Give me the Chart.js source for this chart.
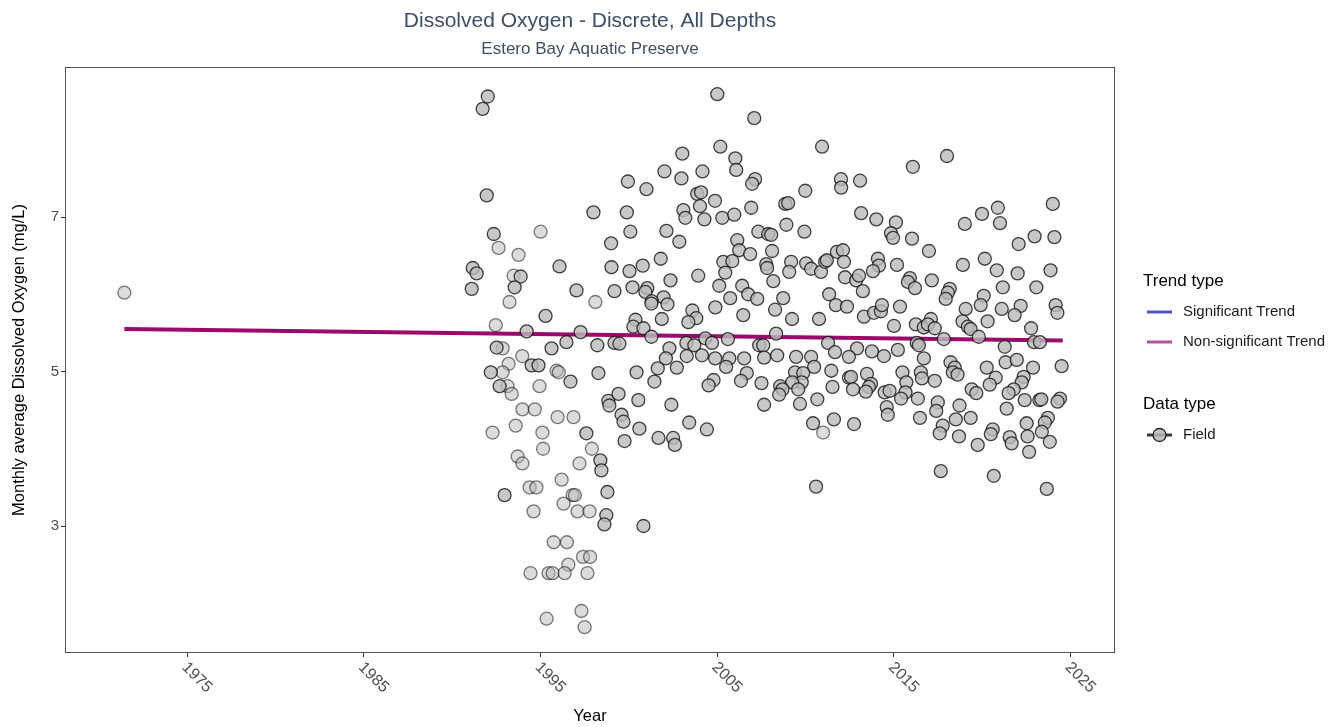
<!DOCTYPE html>
<html>
<head>
<meta charset="utf-8">
<title>Dissolved Oxygen - Discrete, All Depths</title>
<script src="https://cdn.jsdelivr.net/npm/chart.js@4.4.0/dist/chart.umd.min.js"></script>
<style>
    html, body { margin: 0; padding: 0; background: #ffffff; }
    #wrap { width: 1331px; height: 727px; }
</style>
</head>
<body>
<div id="wrap"><canvas id="chart" width="1331" height="727"></canvas></div>
<script>
// Chart texts
const chartTitle = 'Dissolved Oxygen - Discrete, All Depths';
const chartSubtitle = 'Estero Bay Aquatic Preserve';
const xTitle = 'Year';
const yTitle = 'Monthly average Dissolved Oxygen (mg/L)';

// Axis ticks
const xTickValues = [1975, 1985, 1995, 2005, 2015, 2025];
const yTickValues = [3, 5, 7];

// Trend line (non-significant)
const trendYears = [1971.44, 2024.55];
const trendValues = [5.55, 5.40];

// Field points, darker ones
const fieldYears = [
    1992.01, 1991.72, 1991.95, 1997.99, 1992.35, 1998.99, 1991.16, 1991.38, 1993.87, 1993.53,
    1996.07, 1999.01, 1991.10, 1997.03, 1999.18, 1995.28, 1994.21, 1997.26, 1992.51, 1995.62,
    1996.46, 1998.21, 1999.18, 1992.18, 1994.49, 1994.88, 1998.27, 1996.69, 1992.68, 1998.83,
    1998.89, 1997.59, 1998.38, 1998.44, 1998.78, 1998.72, 1998.61, 1992.96,
    2005.00, 2007.09, 2005.17, 2003.02, 2006.02, 2006.07, 2002.01, 2004.16, 2002.97, 1999.94,
    2000.99, 2007.14, 2006.97, 2003.86, 2004.08, 2004.87, 2004.02, 1999.88, 2003.08, 2003.19,
    2004.27, 2005.28, 2005.96, 2006.92, 2000.08, 2002.12, 2002.85, 2007.32, 2007.88, 2006.13,
    2006.24, 2006.86, 2005.34, 2005.85, 2005.45, 2001.80, 2000.78, 2000.03, 2003.92, 2002.35,
    2007.77, 2007.82, 2000.20, 2001.04, 2000.93, 2001.96, 2002.18, 2001.29, 2001.27, 2005.11,
    2006.41, 2006.75, 2007.26, 2005.73, 2004.89, 2003.59, 2003.81, 2003.36, 2001.86, 2006.47,
    2000.37, 2000.25, 2000.82, 2001.27, 1999.46, 2002.29, 2003.25, 2003.70, 2004.32, 2004.70,
    2005.60, 2007.37, 2007.60, 2002.09, 2003.27, 2004.13, 2004.88, 2005.68, 2006.52, 2007.65,
    2001.63, 2001.44, 2002.71, 2005.50, 2006.67, 2006.34, 2004.79, 2004.51, 2007.50, 2007.65,
    2000.43, 1999.41, 2000.53, 2002.40, 1999.58, 1999.69, 2000.59, 2003.41, 2004.41, 1999.75,
    2001.67, 2002.50, 2002.60, 2000.82,
    2010.93, 2016.07, 2012.00, 2012.01, 2013.08, 2009.98, 2008.85, 2009.01, 2013.14, 2014.00,
    2015.11, 2014.83, 2014.95, 2016.02, 2008.91, 2009.93, 2008.05, 2008.10, 2009.18, 2009.07,
    2008.17, 2010.03, 2010.31, 2010.87, 2011.10, 2011.20, 2011.77, 2012.11, 2012.17, 2012.23,
    2012.86, 2013.02, 2013.24, 2014.09, 2014.15, 2013.81, 2015.17, 2015.90, 2015.79, 2016.19,
    2011.33, 2008.73, 2008.27, 2009.23, 2010.76, 2011.71, 2012.34, 2013.30, 2013.87, 2014.26,
    2014.32, 2015.34, 2015.00, 2016.24, 2016.69, 2008.33, 2011.27, 2011.66, 2012.91, 2013.75,
    2014.43, 2015.22, 2016.29, 2008.39, 2009.46, 2010.31, 2012.45,
    2010.48, 2009.40, 2009.86, 2009.78, 2009.24, 2009.58, 2008.56, 2008.69, 2008.50, 2009.68,
    2010.66, 2011.45, 2011.52, 2012.45, 2012.57, 2012.68, 2013.47, 2013.70, 2013.58, 2013.41,
    2014.47, 2014.75, 2015.48, 2015.70, 2015.65, 2015.40, 2014.59, 2014.65, 2016.52, 2016.58,
    2016.35, 2016.47, 2010.42, 2011.60, 2012.74, 2010.59,
    2018.00, 2023.99, 2020.88, 2021.00, 2019.98, 2019.01, 2022.96, 2024.08, 2022.06, 2016.98,
    2018.90, 2020.14, 2020.82, 2022.00, 2023.86, 2017.14, 2021.16, 2023.06, 2018.16, 2018.05,
    2017.93, 2020.08, 2019.91, 2019.06, 2021.10, 2022.17, 2021.83, 2024.15, 2024.25, 2020.30,
    2018.88, 2019.18, 2019.34, 2017.09, 2016.92, 2017.31, 2022.76, 2017.82, 2019.80, 2022.93,
    2023.26, 2021.27, 2016.41, 2016.69, 2018.20, 2021.32, 2021.95,
    2017.31, 2018.44, 2018.33, 2018.60, 2020.25, 2022.87, 2024.49, 2020.76, 2020.42, 2022.34,
    2022.23, 2021.78, 2021.49, 2019.40, 2019.66, 2017.48, 2017.39, 2018.71, 2022.40, 2023.23,
    2023.34, 2024.40, 2024.26, 2021.38, 2018.50, 2019.34, 2017.76, 2017.59, 2018.68, 2019.74,
    2020.59, 2020.48, 2021.55, 2021.66, 2022.51, 2022.56, 2023.71, 2023.54, 2023.37, 2023.82,
    2022.65, 2017.65, 2020.65, 2023.65
];
const fieldValues = [
    8.56, 8.40, 7.28, 7.06, 6.78, 6.66, 6.34, 6.27, 6.23, 6.09,
    6.36, 6.35, 6.07, 6.05, 6.04, 5.72, 5.52, 5.51, 5.31, 5.30,
    5.38, 5.34, 5.37, 4.99, 5.08, 5.08, 4.98, 4.87, 4.81, 4.62,
    4.56, 4.20, 3.85, 3.72, 3.44, 3.14, 3.02, 3.40,
    8.59, 8.28, 7.91, 7.82, 7.76, 7.61, 7.59, 7.59, 7.50, 7.46,
    7.36, 7.49, 7.43, 7.30, 7.32, 7.21, 7.14, 7.06, 7.09, 6.99,
    6.97, 6.99, 7.03, 7.12, 6.81, 6.82, 6.68, 6.81, 6.78, 6.70,
    6.57, 6.52, 6.42, 6.43, 6.28, 6.46, 6.37, 6.30, 6.24, 6.18,
    6.39, 6.34, 6.09, 6.08, 6.03, 5.96, 5.87, 5.91, 5.88, 6.11,
    6.11, 6.00, 5.94, 5.95, 5.83, 5.79, 5.69, 5.64, 5.68, 5.73,
    5.67, 5.58, 5.56, 5.45, 5.36, 5.30, 5.37, 5.34, 5.43, 5.37,
    5.42, 5.34, 5.34, 5.17, 5.20, 5.21, 5.17, 5.17, 5.17, 5.18,
    5.04, 4.87, 5.05, 5.06, 4.98, 4.88, 4.89, 4.82, 4.85, 4.57,
    4.99, 4.71, 4.63, 4.57, 4.44, 4.35, 4.26, 4.34, 4.25, 4.10,
    4.14, 4.14, 4.05, 3.00,
    7.91, 7.65, 7.49, 7.38, 7.47, 7.34, 7.17, 7.18, 7.05, 6.97,
    6.93, 6.79, 6.73, 6.72, 6.90, 6.81, 6.77, 6.56, 6.42, 6.29,
    6.17, 6.40, 6.33, 6.29, 6.42, 6.44, 6.55, 6.57, 6.42, 6.22,
    6.18, 6.24, 6.04, 6.46, 6.37, 6.30, 6.38, 6.21, 6.16, 6.08,
    6.00, 5.95, 5.80, 5.68, 5.68, 5.86, 5.84, 5.71, 5.76, 5.78,
    5.86, 5.84, 5.59, 5.61, 5.57, 5.49, 5.37, 5.25, 5.30, 5.26,
    5.20, 5.28, 5.37, 5.21, 5.19, 5.19, 5.19,
    5.06, 4.99, 4.98, 4.86, 4.86, 4.77, 4.81, 4.77, 4.70, 4.58,
    4.64, 5.01, 4.80, 4.92, 4.93, 4.77, 4.97, 4.84, 4.80, 4.74,
    4.73, 4.75, 4.99, 4.86, 4.73, 4.65, 4.54, 4.44, 4.99, 4.91,
    4.65, 4.40, 4.33, 4.38, 4.32, 3.51,
    7.79, 7.17, 7.12, 6.92, 7.04, 6.91, 6.75, 6.74, 6.65, 6.56,
    6.38, 6.46, 6.31, 6.27, 6.31, 6.18, 6.09, 6.09, 6.07, 6.02,
    5.94, 5.98, 5.86, 5.81, 5.81, 5.85, 5.73, 5.86, 5.76, 5.65,
    5.65, 5.58, 5.55, 5.68, 5.61, 5.56, 5.56, 5.42, 5.45, 5.38,
    5.38, 5.32, 5.34, 5.17, 5.12, 5.12, 5.15,
    4.88, 5.05, 4.99, 4.96, 5.05, 5.05, 5.07, 4.92, 4.83, 4.93,
    4.86, 4.77, 4.72, 4.77, 4.72, 4.60, 4.49, 4.56, 4.63, 4.63,
    4.64, 4.65, 4.61, 4.52, 4.38, 4.40, 4.30, 4.20, 4.16, 4.05,
    4.25, 4.19, 4.15, 4.07, 4.33, 4.16, 4.40, 4.34, 4.22, 4.09,
    3.96, 3.71, 3.65, 3.48
];

// Field points, fainter ones
const faintYears = [
    1971.44, 1995.00, 1992.62, 1993.75, 1993.47, 1998.10, 1993.24, 1992.46, 1993.96, 1992.85,
    1993.19, 1992.85, 1995.90, 1996.03, 1993.13, 1993.36, 1994.94, 1993.97, 1994.67, 1995.96,
    1996.86, 1993.59, 1992.28, 1995.10, 1995.14, 1997.90, 1993.70, 1993.97, 1997.20, 1996.19,
    1994.38, 1994.76, 1996.81, 1996.94, 1996.30, 1994.60, 1997.09, 1997.77, 1995.74, 1996.49,
    1997.40, 1997.80, 1996.57, 1994.43, 1995.45, 1995.68, 1996.36, 1997.65, 1995.34, 1997.31,
    1997.49, 2010.99
];
const faintValues = [
    6.02, 6.81, 6.60, 6.51, 6.24, 5.90, 5.90, 5.60, 5.20, 5.30,
    5.10, 4.99, 5.01, 4.99, 4.81, 4.71, 4.81, 4.51, 4.51, 4.41,
    4.41, 4.30, 4.21, 4.21, 4.00, 4.00, 3.90, 3.81, 3.81, 3.60,
    3.50, 3.50, 3.40, 3.40, 3.29, 3.19, 3.19, 3.19, 2.79, 2.79,
    2.60, 2.60, 2.50, 2.39, 2.39, 2.39, 2.39, 2.39, 1.80, 1.90,
    1.69, 4.21
];

const FONT = '"Liberation Sans", Arial, Helvetica, sans-serif';
const TEXT_GREY = '#4d4d4d';

function toPoints(xs, ys) {
    return xs.map((x, i) => ({ x: x, y: ys[i] }));
}

// Title and subtitle, centred over the plot panel
const titlePlugin = {
    id: 'titles',
    afterDraw(chart) {
        const { ctx, chartArea } = chart;
        const cx = (chartArea.left + chartArea.right) / 2;
        ctx.save();
        ctx.fillStyle = '#3b5068';
        ctx.textAlign = 'center';
        ctx.textBaseline = 'middle';
        ctx.font = '21px ' + FONT;
        ctx.fillText(chartTitle, cx, 21);
        ctx.font = '17px ' + FONT;
        ctx.fillText(chartSubtitle, cx, 49);
        ctx.restore();
    }
};

// Panel border
const borderPlugin = {
    id: 'panelBorder',
    afterDatasetsDraw(chart) {
        const { ctx, chartArea } = chart;
        ctx.save();
        ctx.strokeStyle = '#555555';
        ctx.lineWidth = 1;
        ctx.strokeRect(chartArea.left + 0.5, chartArea.top + 0.5,
            chartArea.right - chartArea.left - 1, chartArea.bottom - chartArea.top - 1);
        ctx.restore();
    }
};

// Rotated year labels (clockwise, reading down to the right)
const xLabelPlugin = {
    id: 'xLabels',
    afterDraw(chart) {
        const { ctx } = chart;
        const scale = chart.scales.x;
        ctx.save();
        ctx.font = '16px ' + FONT;
        ctx.fillStyle = TEXT_GREY;
        ctx.textAlign = 'left';
        ctx.textBaseline = 'middle';
        scale.ticks.forEach(t => {
            const x = scale.getPixelForValue(t.value);
            ctx.save();
            ctx.translate(x - 3, scale.top + 12);
            ctx.rotate(Math.PI / 4);
            ctx.fillText(String(t.value), 0, 0);
            ctx.restore();
        });
        ctx.restore();
    }
};

// Legend on the right
const legendPlugin = {
    id: 'sideLegend',
    afterDraw(chart) {
        const { ctx, chartArea } = chart;
        const x0 = chartArea.right + 28;
        const keyX = x0 + 4;
        const textX = x0 + 40;
        ctx.save();
        ctx.textBaseline = 'middle';
        ctx.textAlign = 'left';

        ctx.fillStyle = '#000000';
        ctx.font = '17px ' + FONT;
        ctx.fillText('Trend type', x0, 281);

        const trendKeys = [
            { label: 'Significant Trend', color: '#5252c4', y: 312 },
            { label: 'Non-significant Trend', color: '#b4529f', y: 342 }
        ];
        ctx.font = '15px ' + FONT;
        trendKeys.forEach(k => {
            ctx.strokeStyle = k.color;
            ctx.lineWidth = 3;
            ctx.beginPath();
            ctx.moveTo(keyX, k.y);
            ctx.lineTo(keyX + 25, k.y);
            ctx.stroke();
            ctx.fillStyle = '#1a1a1a';
            ctx.fillText(k.label, textX, k.y);
        });

        ctx.fillStyle = '#000000';
        ctx.font = '17px ' + FONT;
        ctx.fillText('Data type', x0, 404);

        const fy = 435;
        ctx.strokeStyle = '#3a3a3a';
        ctx.lineWidth = 3;
        ctx.beginPath();
        ctx.moveTo(keyX, fy);
        ctx.lineTo(keyX + 25, fy);
        ctx.stroke();
        ctx.beginPath();
        ctx.arc(keyX + 12.5, fy, 6.5, 0, Math.PI * 2);
        ctx.fillStyle = 'rgba(186,186,186,0.85)';
        ctx.fill();
        ctx.lineWidth = 1.3;
        ctx.strokeStyle = '#222222';
        ctx.stroke();
        ctx.fillStyle = '#1a1a1a';
        ctx.font = '15px ' + FONT;
        ctx.fillText('Field', textX, fy);
        ctx.restore();
    }
};

const ctx = document.getElementById('chart');

new Chart(ctx, {
    type: 'scatter',
    data: {
        datasets: [
            {
                label: 'Field',
                data: toPoints(fieldYears, fieldValues),
                backgroundColor: 'rgba(186,186,186,0.8)',
                borderColor: 'rgba(20,20,20,0.8)',
                borderWidth: 1.3,
                pointRadius: 6.5,
                order: 1
            },
            {
                label: 'Field (faint)',
                data: toPoints(faintYears, faintValues),
                backgroundColor: 'rgba(186,186,186,0.5)',
                borderColor: 'rgba(20,20,20,0.55)',
                borderWidth: 1.3,
                pointRadius: 6.5,
                order: 2
            },
            {
                label: 'Non-significant Trend',
                data: toPoints(trendYears, trendValues),
                showLine: true,
                borderColor: '#990a6b',
                borderWidth: 4,
                borderCapStyle: 'butt',
                pointRadius: 0,
                fill: false,
                order: 3
            }
        ]
    },
    options: {
        responsive: false,
        animation: false,
        layout: {
            padding: { left: 0, right: 216, top: 67, bottom: 0 }
        },
        plugins: {
            legend: { display: false },
            tooltip: { enabled: false },
            title: { display: false }
        },
        scales: {
            x: {
                type: 'linear',
                min: 1968.08,
                max: 2027.51,
                afterBuildTicks: scale => {
                    scale.ticks = xTickValues.map(v => ({ value: v }));
                },
                afterFit: scale => {
                    scale.height = 74;
                },
                ticks: { display: false },
                grid: {
                    display: true,
                    drawOnChartArea: false,
                    drawTicks: true,
                    tickLength: 4,
                    tickColor: '#333333',
                    tickWidth: 1
                },
                border: { display: false },
                title: {
                    display: true,
                    text: xTitle,
                    color: '#000000',
                    font: { family: FONT, size: 16.5 },
                    padding: { top: 0, bottom: 1 }
                }
            },
            y: {
                type: 'linear',
                min: 1.356,
                max: 8.942,
                afterBuildTicks: scale => {
                    scale.ticks = yTickValues.map(v => ({ value: v }));
                },
                afterFit: scale => {
                    scale.width = 65;
                },
                ticks: {
                    color: TEXT_GREY,
                    font: { family: FONT, size: 15 },
                    padding: 2,
                    callback: v => String(v)
                },
                grid: {
                    display: true,
                    drawOnChartArea: false,
                    drawTicks: true,
                    tickLength: 4,
                    tickColor: '#333333',
                    tickWidth: 1
                },
                border: { display: false },
                title: {
                    display: true,
                    text: yTitle,
                    color: '#000000',
                    font: { family: FONT, size: 16.5 },
                    padding: { top: 10, bottom: 0 }
                }
            }
        }
    },
    plugins: [titlePlugin, borderPlugin, xLabelPlugin, legendPlugin]
});
</script>
</body>
</html>
